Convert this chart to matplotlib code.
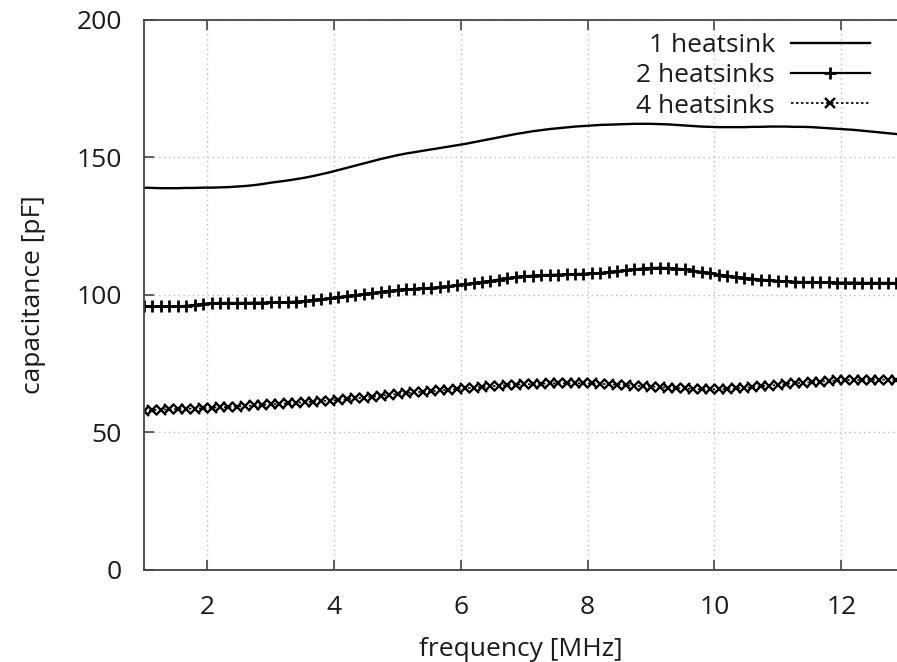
import numpy as np
import matplotlib
matplotlib.use("Agg")
import matplotlib.pyplot as plt

# sweep: 1 .. 13 MHz, 91 points (step 2/15 MHz)
freq_mhz = np.linspace(1, 13, 91)

cap_1_heatsink = [
    139.0, 138.9, 138.8, 138.8, 138.8, 138.9, 138.9, 139.0, 139.0, 139.1,
    139.2, 139.4, 139.6, 139.9, 140.3, 140.8, 141.2, 141.6, 142.1, 142.6,
    143.2, 143.9, 144.6, 145.4, 146.2, 147.0, 147.8, 148.6, 149.4, 150.1,
    150.8, 151.4, 151.9, 152.4, 152.9, 153.4, 153.9, 154.4, 154.9, 155.5,
    156.1, 156.7, 157.3, 157.9, 158.5, 159.0, 159.5, 159.9, 160.3, 160.6,
    160.9, 161.2, 161.4, 161.6, 161.8, 161.9, 162.0, 162.1, 162.2, 162.2,
    162.2, 162.1, 162.0, 161.8, 161.6, 161.4, 161.2, 161.1, 161.0, 161.0,
    161.0, 161.0, 161.1, 161.1, 161.2, 161.2, 161.2, 161.1, 161.1, 161.0,
    160.8, 160.6, 160.4, 160.2, 160.0, 159.7, 159.4, 159.1, 158.8, 158.5,
    158.2,
]

cap_2_heatsinks = [
    95.8, 95.8, 95.8, 95.9, 95.9, 96.0, 96.4, 96.8, 97.0, 97.1,
    97.1, 97.1, 97.1, 97.2, 97.2, 97.3, 97.3, 97.4, 97.6, 97.8,
    98.1, 98.4, 98.7, 99.1, 99.5, 99.9, 100.3, 100.7, 101.1, 101.5,
    101.8, 102.0, 102.2, 102.4, 102.6, 102.8, 103.1, 103.5, 103.9, 104.3,
    104.7, 105.1, 105.6, 106.1, 106.5, 106.8, 107.0, 107.2, 107.3, 107.4,
    107.5, 107.6, 107.7, 107.8, 108.0, 108.3, 108.6, 108.9, 109.3, 109.6,
    109.8, 109.9, 109.8, 109.6, 109.3, 108.8, 108.3, 107.8, 107.4, 107.0,
    106.6, 106.2, 105.9, 105.6, 105.3, 105.1, 104.9, 104.8, 104.7, 104.7,
    104.6, 104.6, 104.5, 104.5, 104.5, 104.4, 104.4, 104.4, 104.4, 104.3,
    104.3,
]

cap_4_heatsinks = [
    57.8, 58.1, 58.3, 58.4, 58.5, 58.6, 58.7, 58.8, 59.0, 59.1,
    59.3, 59.4, 59.6, 59.8, 60.0, 60.2, 60.4, 60.6, 60.8, 61.0,
    61.2, 61.4, 61.6, 61.8, 62.1, 62.4, 62.7, 63.0, 63.3, 63.7,
    64.0, 64.3, 64.6, 64.8, 65.0, 65.3, 65.5, 65.8, 66.0, 66.3,
    66.5, 66.8, 67.0, 67.2, 67.4, 67.5, 67.6, 67.7, 67.8, 67.9,
    67.9, 67.9, 67.9, 67.8, 67.7, 67.5, 67.4, 67.2, 67.0, 66.8,
    66.7, 66.5, 66.3, 66.1, 66.0, 65.8, 65.7, 65.7, 65.7, 65.8,
    66.0, 66.2, 66.5, 66.8, 67.0, 67.3, 67.6, 67.9, 68.1, 68.3,
    68.5, 68.7, 68.9, 69.0, 69.1, 69.1, 69.2, 69.2, 69.2, 69.1,
    69.1,
]

x_ticks = [2, 4, 6, 8, 10, 12]
y_ticks = [0, 50, 100, 150, 200]

plt.rcParams["font.family"] = ["Open Sans", "DejaVu Sans"]
plt.rcParams["font.size"] = 19

fig = plt.figure(figsize=(8.97, 6.62), dpi=100)
ax = fig.add_axes([0.1605, 0.139, 0.8395, 0.831])

ax.plot(freq_mhz, cap_1_heatsink, color="black", lw=1.7, label="1 heatsink")
ax.plot(freq_mhz, cap_2_heatsinks, color="black", lw=1.6, marker="+",
        ms=9, mew=2.0, label="2 heatsinks")
ax.plot(freq_mhz, cap_4_heatsinks, color="black", lw=1.2, ls=(0, (1.5, 1.5)),
        marker="x", ms=7, mew=1.7, label="4 heatsinks")

ax.set_xlim(1, 12.88)
ax.set_ylim(0, 200)
ax.set_xticks(x_ticks)
ax.set_yticks(y_ticks)
ax.grid(True, color="#bdbdbd", lw=1.0, ls=(0, (1, 2.5)))
ax.tick_params(direction="in", length=7, width=1.2, top=True, right=False,
               color="#444444", labelcolor="#1a1a1a")
ax.tick_params(axis="y", pad=16)
ax.tick_params(axis="x", pad=18)
ax.spines["right"].set_visible(False)
for s in ("left", "bottom", "top"):
    ax.spines[s].set_linewidth(1.3)
    ax.spines[s].set_color("#444444")

ax.set_xlabel("frequency [MHz]", color="#1a1a1a", labelpad=12)
ax.set_ylabel("capacitance [pF]", color="#1a1a1a", labelpad=22)

leg = ax.legend(loc="upper right", bbox_to_anchor=(0.964, 0.976),
                frameon=False, markerfirst=False, numpoints=1,
                handlelength=3.0, handletextpad=0.6, labelspacing=0.2,
                borderpad=0, borderaxespad=0)
for t in leg.get_texts():
    t.set_color("#1a1a1a")

fig.savefig("out.png", dpi=100)
